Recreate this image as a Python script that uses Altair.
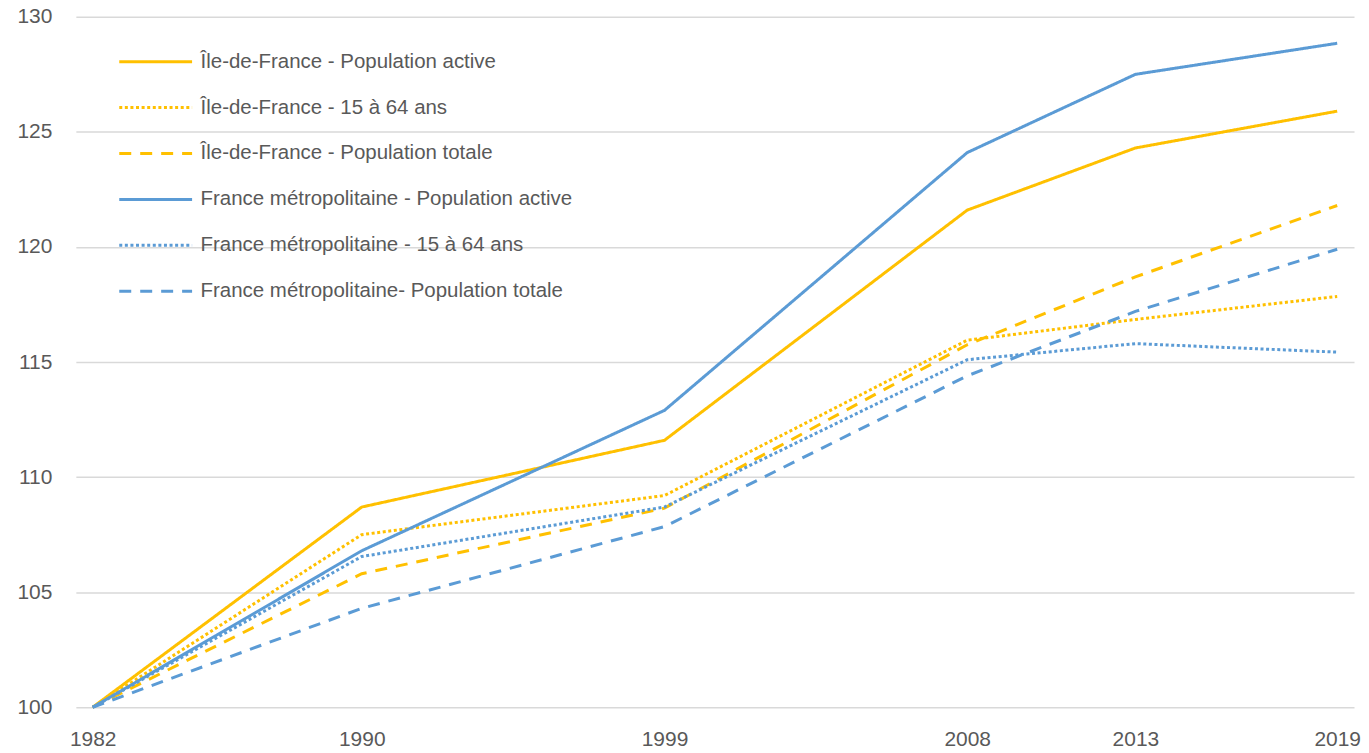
import altair as alt
import pandas as pd

years = [1982, 1990, 1999, 2008, 2013, 2019]
series_names = [
    "Île-de-France - Population active",
    "Île-de-France - 15 à 64 ans",
    "Île-de-France - Population totale",
    "France métropolitaine - Population active",
    "France métropolitaine - 15 à 64 ans",
    "France métropolitaine- Population totale",
]
idf_active = [100, 108.7, 111.6, 121.6, 124.3, 125.9]
idf_1564 = [100, 107.5, 109.2, 115.95, 116.85, 117.85]
idf_total = [100, 105.8, 108.65, 115.75, 118.7, 121.8]
fm_active = [100, 106.8, 112.9, 124.1, 127.5, 128.85]
fm_1564 = [100, 106.55, 108.7, 115.1, 115.8, 115.43]
fm_total = [100, 104.3, 107.85, 114.4, 117.2, 119.9]

colors = ["#FFC000", "#FFC000", "#FFC000", "#5B9BD5", "#5B9BD5", "#5B9BD5"]
dashes = [[1, 0], [3, 2.6], [12, 9], [1, 0], [3, 2.6], [12, 9]]

all_values = [idf_active, idf_1564, idf_total, fm_active, fm_1564, fm_total]
rows = []
for i, (name, vals) in enumerate(zip(series_names, all_values)):
    for y, v in zip(years, vals):
        rows.append({"year": y, "value": v, "series": name, "order": i})
df = pd.DataFrame(rows)

FONT = "Liberation Sans"

legend_opts = dict(
    title=None,
    orient="none",
    legendX=69,
    legendY=34,
    symbolType="M-4,0H4",
    symbolSize=333,
    symbolStrokeWidth=3,
    labelFont=FONT,
    labelFontSize=20.5,
    labelColor="#595959",
    labelLimit=0,
    labelOffset=34,
    rowPadding=24,
    padding=0,
)

chart = (
    alt.Chart(df)
    .mark_line(strokeWidth=3, strokeCap="butt", strokeJoin="miter")
    .encode(
        x=alt.X(
            "year:Q",
            scale=alt.Scale(domain=[1981.5, 2019.5], nice=False, zero=False),
            axis=alt.Axis(
                values=years,
                format="d",
                title=None,
                grid=False,
                domain=False,
                ticks=False,
                tickSize=0,
                labelPadding=21,
                labelFontSize=21,
                labelFont=FONT,
                labelColor="#595959",
                labelFlush=False,
            ),
        ),
        y=alt.Y(
            "value:Q",
            scale=alt.Scale(domain=[100, 130], nice=False, zero=False),
            axis=alt.Axis(
                values=[100, 105, 110, 115, 120, 125, 130],
                title=None,
                grid=True,
                gridColor="#D9D9D9",
                gridWidth=1.5,
                domain=False,
                ticks=False,
                tickSize=0,
                labelPadding=24,
                labelFontSize=21,
                labelFont=FONT,
                labelColor="#595959",
            ),
        ),
        color=alt.Color(
            "series:N",
            scale=alt.Scale(domain=series_names, range=colors),
            sort=series_names,
            legend=alt.Legend(**legend_opts),
        ),
        strokeDash=alt.StrokeDash(
            "series:N",
            scale=alt.Scale(domain=series_names, range=dashes),
            sort=series_names,
            legend=alt.Legend(**legend_opts),
        ),
        order=alt.Order("order:Q"),
        detail="series:N",
    )
    .properties(
        width=1281,
        height=692,
        autosize=alt.AutoSizeParams(type="none"),
        padding={"left": 68, "top": 8, "right": 7, "bottom": 44},
    )
    .configure(background="white")
    .configure_view(stroke=None)
)

chart.save("out.html", embed_options={"renderer": "svg", "actions": False})
